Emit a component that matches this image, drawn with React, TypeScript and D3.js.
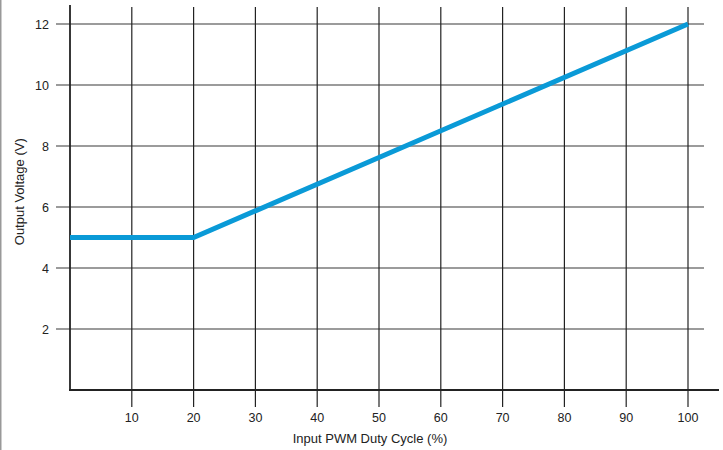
import React from "react";
import * as d3 from "d3";

const dutyCycle = [0, 20, 100];
const outputVoltage = [5, 5, 12];
const xTicks = [10, 20, 30, 40, 50, 60, 70, 80, 90, 100];
const yTicks = [2, 4, 6, 8, 10, 12];

export default function App() {
  const W = 723, H = 450;
  const x = d3.scaleLinear().domain([0, 100]).range([70, 688]);
  const y = d3.scaleLinear().domain([0, 12]).range([390, 24]);
  const pts = dutyCycle.map((d, i) => [d, outputVoltage[i]] as [number, number]);
  const line = d3.line<[number, number]>().x(d => x(d[0])).y(d => y(d[1]));
  const font = "Liberation Sans, Arial, sans-serif";
  return (
    <svg width={W} height={H} style={{ position: "absolute", left: 0, top: 0, background: "#fff" }}>
      <rect x={0} y={0} width={W} height={H} fill="#fff" />
      <line x1={0.5} x2={0.5} y1={0} y2={H} stroke="#999" strokeWidth={2} />
      {yTicks.map(t => (
        <g key={"y" + t}>
          <line x1={56} x2={704} y1={y(t)} y2={y(t)} stroke="#7a7a7a" strokeWidth={1.5} />
          <text x={49} y={y(t) + 4.5} textAnchor="end" fontSize={12.5} fontFamily={font} fill="#222">{t}</text>
        </g>
      ))}
      {xTicks.map(t => (
        <g key={"x" + t}>
          <line x1={x(t)} x2={x(t)} y1={7} y2={407} stroke="#222" strokeWidth={1.2} />
          <text x={x(t)} y={422} textAnchor="middle" fontSize={12.5} fontFamily={font} fill="#222">{t}</text>
        </g>
      ))}
      <line x1={x(0)} x2={x(0)} y1={5} y2={391} stroke="#222" strokeWidth={1.8} />
      <line x1={69} x2={719} y1={y(0)} y2={y(0)} stroke="#222" strokeWidth={1.8} />
      <path d={line(pts) || ""} fill="none" stroke="#0a9ad7" strokeWidth={5} strokeLinejoin="miter" />
      <text x={370} y={443} textAnchor="middle" fontSize={13} fontFamily={font} fill="#222">Input PWM Duty Cycle (%)</text>
      <text transform={`translate(24,${y(6.5)}) rotate(-90)`} textAnchor="middle" fontSize={13} fontFamily={font} fill="#222">Output Voltage (V)</text>
    </svg>
  );
}
